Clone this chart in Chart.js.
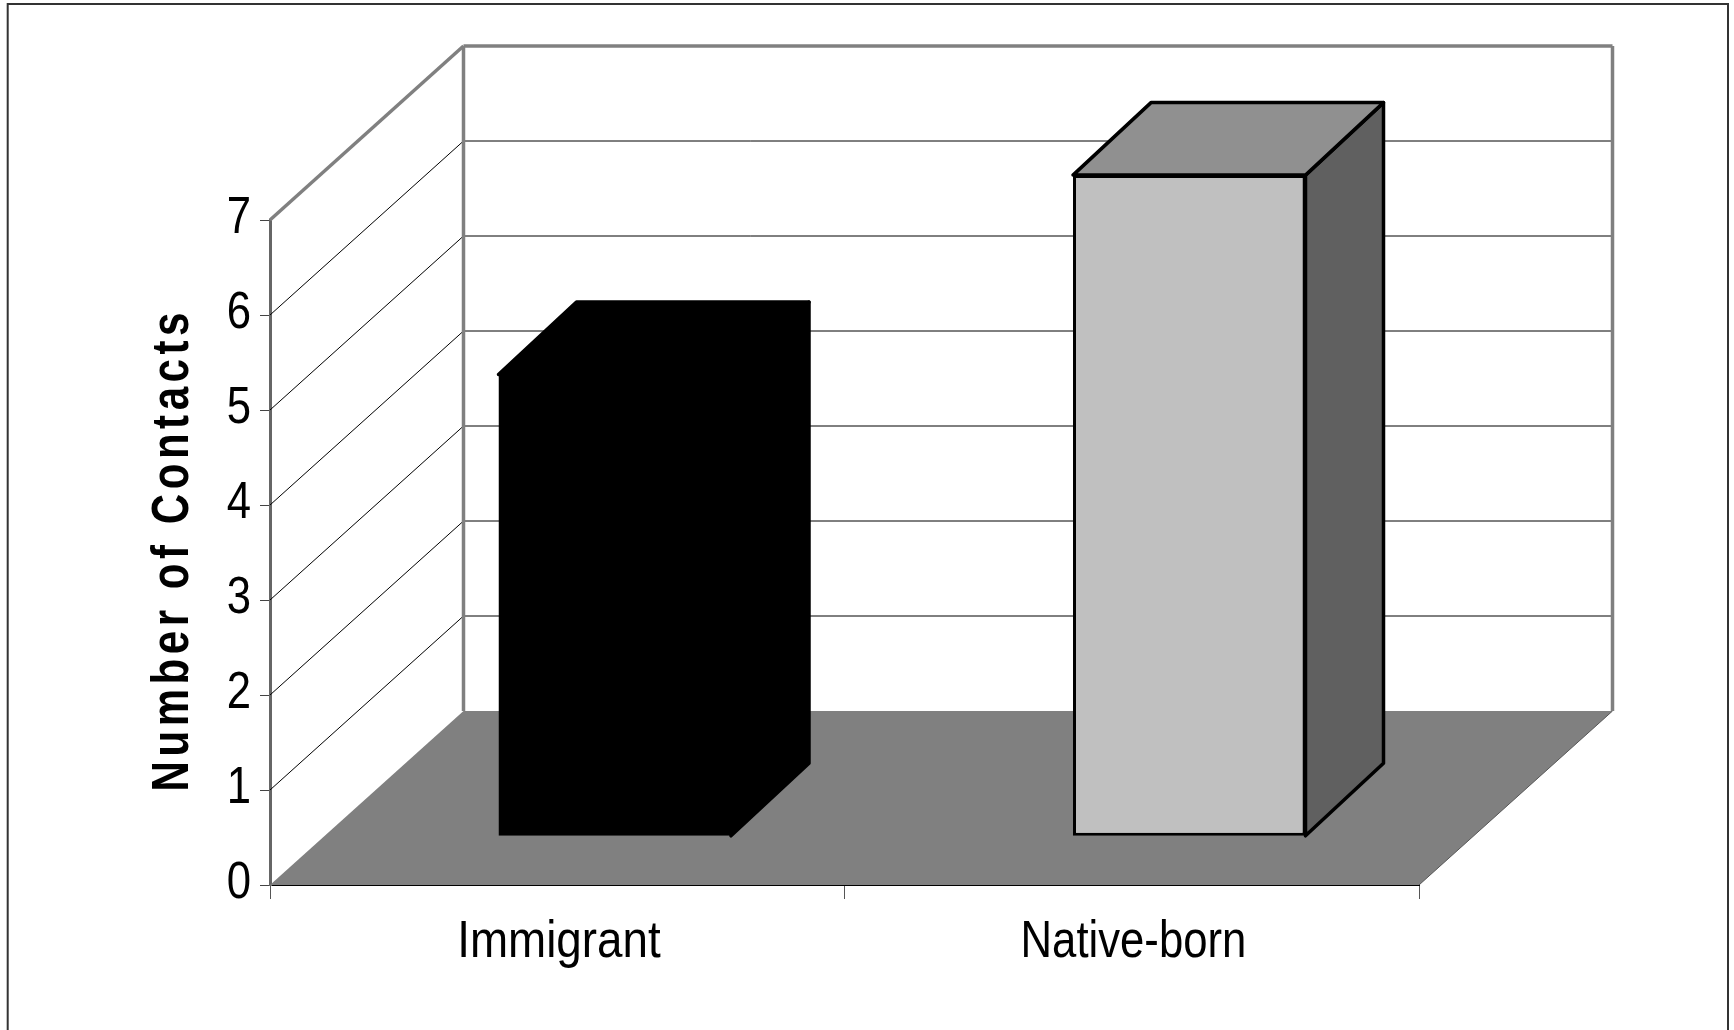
<!DOCTYPE html>
<html>
<head>
<meta charset="utf-8">
<title>Number of Contacts</title>
<script src="https://cdn.jsdelivr.net/npm/chart.js@4"></script>
<style>
  html, body { margin: 0; padding: 0; background: #fff; }
  canvas { display: block; }
</style>
</head>
<body>
<canvas id="contacts" width="1734" height="1030"></canvas>
<script>
const categories = ['Immigrant', 'Native-born'];
const contacts = [4.86, 6.96];

const frontColors = ['#000000', '#c0c0c0'];
const topColors = ['#000000', '#909090'];
const sideColors = ['#000000', '#606060'];

const AXIS_TITLE = 'Number of Contacts';
const LABEL_FONT = '"Liberation Sans", Arial, sans-serif';
// horizontal squeeze of the labels, none of the installed fonts is narrow enough
const categoryStretch = [0.88, 0.84];
const DIGIT_STRETCH = 0.84;
const TITLE_STRETCH = 0.8;

// plot box in canvas pixels
const PLOT = { left: 270, right: 1419, top: 220, bottom: 885 };
// how far the back wall sits from the front plane
const DEPTH_X = 193.5;
const DEPTH_Y = 174;
// front face of the bars relative to the front plane, and their own depth
const BAR_SHIFT_X = 57.5;
const BAR_SHIFT_Y = -48.7;
const BAR_DEPTH_X = 78;
const BAR_DEPTH_Y = -72.5;

const WALL_GREY = '#808080';

function polygon(ctx, points) {
  ctx.beginPath();
  points.forEach(([x, y], i) => (i ? ctx.lineTo(x, y) : ctx.moveTo(x, y)));
  ctx.closePath();
}

function line(ctx, x1, y1, x2, y2, color, width) {
  ctx.strokeStyle = color;
  ctx.lineWidth = width;
  ctx.beginPath();
  ctx.moveTo(x1, y1);
  ctx.lineTo(x2, y2);
  ctx.stroke();
}

// walls, floor and gridlines behind the bars
const room = {
  id: 'room',
  beforeDatasetsDraw(chart) {
    const { ctx, chartArea: area, scales } = chart;
    const { left, right, bottom } = area;
    const backLeft = left + DEPTH_X;
    const backRight = right + DEPTH_X;
    const yScale = scales.y;

    ctx.save();
    ctx.fillStyle = WALL_GREY;
    polygon(ctx, [[left, bottom], [right, bottom], [backRight, bottom - DEPTH_Y], [backLeft, bottom - DEPTH_Y]]);
    ctx.fill();
    line(ctx, right, bottom, backRight, bottom - DEPTH_Y, '#555', 1);

    yScale.ticks.forEach((tick) => {
      if (tick.value === 0) return;
      const y = yScale.getPixelForValue(tick.value);
      const isTop = tick.value === yScale.max;
      const color = isTop ? WALL_GREY : '#000';
      const width = isTop ? 3.5 : 1;
      line(ctx, left, y, backLeft, y - DEPTH_Y, color, width);
      line(ctx, backLeft, y - DEPTH_Y, backRight, y - DEPTH_Y, color, width);
    });

    const wallTop = yScale.getPixelForValue(yScale.max) - DEPTH_Y;
    line(ctx, backLeft, wallTop, backLeft, bottom - DEPTH_Y, WALL_GREY, 3.5);
    line(ctx, backRight, wallTop, backRight, bottom - DEPTH_Y, WALL_GREY, 3.5);
    ctx.restore();
  },
};

// top and side faces first, then the library's bar shifted onto the floor
const cuboids = {
  id: 'cuboids',
  beforeDatasetDraw(chart, args) {
    const { ctx } = chart;
    ctx.save();
    ctx.translate(BAR_SHIFT_X, BAR_SHIFT_Y);
    ctx.lineWidth = 3.5;
    ctx.lineJoin = 'round';
    ctx.strokeStyle = '#000';
    args.meta.data.forEach((bar, i) => {
      const { x, y, base, width } = bar.getProps(['x', 'y', 'base', 'width'], true);
      const l = x - width / 2;
      const r = x + width / 2;

      ctx.fillStyle = sideColors[i];
      polygon(ctx, [[r, y], [r + BAR_DEPTH_X, y + BAR_DEPTH_Y], [r + BAR_DEPTH_X, base + BAR_DEPTH_Y], [r, base]]);
      ctx.fill();
      ctx.stroke();

      ctx.fillStyle = topColors[i];
      polygon(ctx, [[l, y], [l + BAR_DEPTH_X, y + BAR_DEPTH_Y], [r + BAR_DEPTH_X, y + BAR_DEPTH_Y], [r, y]]);
      ctx.fill();
      ctx.stroke();

      // backing so the seam between bar border and bar fill does not show the floor
      ctx.fillStyle = frontColors[i];
      ctx.fillRect(l + 1, y + 1, width - 2, base - y - 2);
    });
  },
  afterDatasetDraw(chart) {
    chart.ctx.restore();
  },
};

// page border behind everything, squeezed axis text on top
const furniture = {
  id: 'furniture',
  beforeDraw(chart) {
    const { ctx, height } = chart;
    ctx.save();
    ctx.strokeStyle = '#333';
    ctx.lineWidth = 2;
    ctx.beginPath();
    ctx.moveTo(7.7, height);
    ctx.lineTo(7.7, 4);
    ctx.lineTo(1728, 4);
    ctx.lineTo(1728, height);
    ctx.stroke();
    ctx.restore();
  },
  afterDraw(chart) {
    const { ctx, scales } = chart;
    ctx.save();
    ctx.fillStyle = '#000';
    ctx.font = '52px ' + LABEL_FONT;

    ctx.textAlign = 'right';
    ctx.textBaseline = 'middle';
    scales.y.ticks.forEach((tick) => {
      ctx.save();
      ctx.translate(251, scales.y.getPixelForValue(tick.value) - 1);
      ctx.scale(DIGIT_STRETCH, 1);
      ctx.fillText(tick.label, 0, 0);
      ctx.restore();
    });

    ctx.textAlign = 'center';
    ctx.textBaseline = 'alphabetic';
    scales.x.ticks.forEach((tick, i) => {
      ctx.save();
      ctx.translate(scales.x.getPixelForTick(i) + 1.7, 957.3);
      ctx.scale(categoryStretch[i], 1);
      ctx.fillText(tick.label, 0, 0);
      ctx.restore();
    });

    ctx.translate(188.3, 791.5);
    ctx.rotate(-Math.PI / 2);
    ctx.scale(TITLE_STRETCH, 1);
    ctx.font = 'bold 52.6px ' + LABEL_FONT;
    ctx.letterSpacing = '5.65px';
    ctx.textAlign = 'left';
    ctx.fillText(AXIS_TITLE, 0, 0);
    ctx.restore();
  },
};

new Chart(document.getElementById('contacts'), {
  type: 'bar',
  data: {
    labels: categories,
    datasets: [{
      label: AXIS_TITLE,
      data: contacts,
      backgroundColor: frontColors,
      borderColor: '#000',
      borderWidth: 3,
      borderSkipped: false,
      categoryPercentage: 1,
      barPercentage: 0.4047,
    }],
  },
  options: {
    responsive: false,
    animation: false,
    layout: {
      padding: { left: 0, top: PLOT.top, right: 1734 - PLOT.right, bottom: 0 },
    },
    plugins: {
      legend: { display: false },
      title: { display: false },
      tooltip: { enabled: false },
    },
    scales: {
      x: {
        afterFit(scale) { scale.height = 1030 - PLOT.bottom; },
        border: { color: '#000', width: 2 },
        grid: { drawOnChartArea: false, drawTicks: true, tickLength: 14, color: '#555', lineWidth: 1 },
        ticks: { display: false },
      },
      y: {
        min: 0,
        max: 7,
        afterFit(scale) { scale.width = PLOT.left; },
        border: { color: '#666', width: 3 },
        grid: { drawOnChartArea: false, drawTicks: true, tickLength: 10, color: '#444', lineWidth: 1 },
        ticks: { stepSize: 1, display: false },
      },
    },
  },
  plugins: [furniture, room, cuboids],
});
</script>
</body>
</html>
